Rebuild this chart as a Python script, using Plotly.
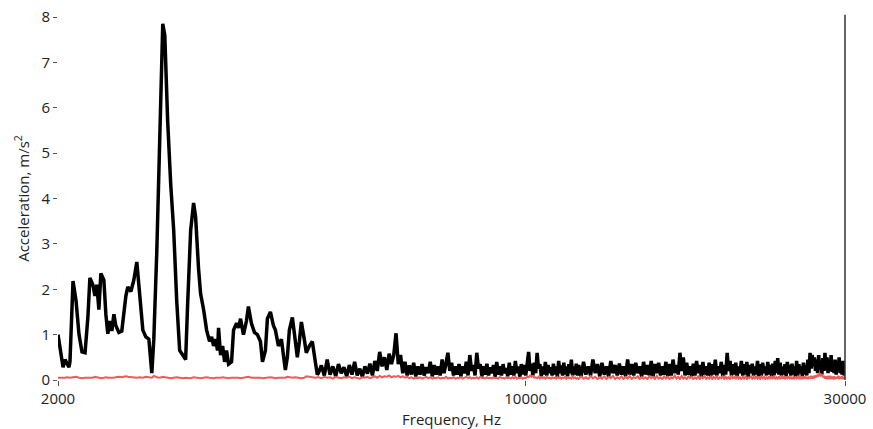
import math
import plotly.graph_objects as go

# ---- Data ----
freq_low = [
    2000, 2021, 2035, 2049, 2063, 2077, 2084, 2106, 2128, 2150,
    2172, 2195, 2217, 2232, 2255, 2271, 2286, 2302, 2318, 2342,
    2358, 2374, 2391, 2407, 2424, 2440, 2466, 2491, 2526, 2543,
    2570, 2596, 2623, 2650, 2678, 2706, 2734, 2762, 2781, 2810,
    2839, 2868, 2888, 2917, 2948, 2978, 3009, 3040, 3072, 3103,
    3124, 3157, 3189, 3211, 3244, 3267, 3301, 3335, 3369, 3393,
    3416, 3440, 3463, 3475, 3499, 3524, 3548, 3572, 3597, 3634,
    3659, 3697, 3722, 3748, 3786, 3825, 3851, 3891, 3932, 3972,
    4014, 4042, 4083, 4111, 4154, 4197, 4226, 4270, 4314, 4344,
    4373, 4403, 4434, 4480, 4526, 4557, 4589, 4621, 4667, 4700,
    4749, 4798, 4848, 4881,
]
accel_low = [
    1.0, 0.6, 0.28, 0.45, 0.35, 0.28, 0.4, 2.18, 1.75, 1.0,
    0.62, 0.6, 1.4, 2.25, 2.1, 1.85, 2.1, 1.55, 2.35, 2.2,
    1.45, 1.02, 1.3, 1.08, 1.45, 1.2, 1.05, 1.08, 1.85, 2.05,
    1.95, 2.2, 2.6, 1.85, 1.1, 0.95, 0.9, 0.15, 0.9, 2.85,
    5.7, 7.85, 7.6, 5.7, 4.3, 3.3, 1.75, 0.65, 0.55, 0.45,
    1.65, 3.3, 3.9, 3.6, 2.45, 1.9, 1.55, 1.1, 0.85, 0.95,
    0.75, 0.9, 0.65, 1.15, 0.55, 0.75, 0.4, 0.65, 0.35, 0.4,
    1.1, 1.25, 1.15, 1.35, 1.0, 1.3, 1.62, 1.25, 1.05, 1.0,
    0.85, 0.4, 0.65, 1.35, 1.5, 1.2, 1.1, 0.75, 0.9, 0.6,
    0.22, 0.5, 1.1, 1.38, 0.85, 0.5, 0.85, 1.28, 0.9, 0.6,
    0.75, 0.85, 0.4, 0.12,
]
noise_low = [
    0.05, 0.05, 0.04, 0.05, 0.06, 0.05, 0.05, 0.06, 0.07, 0.05,
    0.04, 0.05, 0.06, 0.05, 0.05, 0.07, 0.06, 0.05, 0.04, 0.05,
    0.06, 0.05, 0.05, 0.04, 0.05, 0.06, 0.07, 0.06, 0.08, 0.07,
    0.06, 0.05, 0.05, 0.06, 0.05, 0.07, 0.06, 0.05, 0.09, 0.06,
    0.05, 0.07, 0.06, 0.05, 0.04, 0.05, 0.06, 0.05, 0.04, 0.05,
    0.05, 0.04, 0.06, 0.05, 0.05, 0.04, 0.05, 0.06, 0.05, 0.04,
    0.04, 0.05, 0.05, 0.04, 0.05, 0.06, 0.05, 0.05, 0.04, 0.05,
    0.05, 0.06, 0.05, 0.04, 0.05, 0.06, 0.07, 0.05, 0.05, 0.06,
    0.05, 0.04, 0.05, 0.05, 0.06, 0.05, 0.04, 0.05, 0.05, 0.06,
    0.05, 0.07, 0.06, 0.05, 0.06, 0.05, 0.05, 0.04, 0.05, 0.08,
    0.07, 0.06, 0.05, 0.06,
]

freq_mid = [
    4900, 4950, 5000, 5050, 5100, 5150, 5200, 5250, 5300, 5350,
    5400, 5450, 5500, 5550, 5600, 5650, 5700, 5750, 5800, 5850,
    5900, 5950, 6000, 6050, 6100, 6150, 6200, 6250, 6300, 6350,
    6400, 6450, 6500, 6550, 6600, 6650, 6700, 6750, 6800, 6850,
    6900, 6950, 7000, 7050, 7100, 7150, 7200, 7250, 7300, 7350,
    7400, 7450, 7500, 7550, 7600, 7650, 7700, 7750, 7800, 7850,
    7900, 7950, 8000, 8050, 8100, 8150, 8200, 8250, 8300, 8350,
    8400, 8450, 8500, 8550, 8600, 8650, 8700, 8750, 8800, 8850,
    8900, 8950, 9000, 9050, 9100, 9150, 9200, 9250, 9300, 9350,
    9400, 9450, 9500, 9550, 9600, 9650, 9700, 9750, 9800, 9850,
    9900, 9950, 10000, 10050, 10100, 10150, 10200, 10250, 10300, 10350,
    10400, 10450, 10500, 10550, 10600, 10650, 10700, 10750, 10800, 10850,
    10900, 10950, 11000, 11050, 11100, 11150, 11200, 11250, 11300, 11350,
    11400, 11450, 11500, 11550, 11600, 11650, 11700, 11750, 11800, 11850,
    11900, 11950,
]
accel_mid = [
    0.15, 0.32, 0.1, 0.45, 0.12, 0.3, 0.08, 0.35, 0.15, 0.28,
    0.08, 0.33, 0.12, 0.4, 0.1, 0.25, 0.07, 0.3, 0.14, 0.36,
    0.1, 0.42, 0.2, 0.62, 0.3, 0.5, 0.22, 0.58, 0.35, 0.55,
    1.03, 0.35, 0.55, 0.15, 0.4, 0.1, 0.32, 0.12, 0.38, 0.08,
    0.3, 0.12, 0.35, 0.1, 0.28, 0.15, 0.4, 0.08, 0.33, 0.12,
    0.3, 0.1, 0.45, 0.15, 0.36, 0.6, 0.2, 0.38, 0.1, 0.3,
    0.12, 0.35, 0.08, 0.3, 0.15, 0.4, 0.1, 0.55, 0.2, 0.33,
    0.1, 0.6, 0.25, 0.35, 0.08, 0.3, 0.12, 0.36, 0.1, 0.28,
    0.15, 0.33, 0.07, 0.4, 0.12, 0.3, 0.1, 0.35, 0.15, 0.26,
    0.08, 0.38, 0.12, 0.3, 0.1, 0.42, 0.15, 0.3, 0.07, 0.35,
    0.12, 0.33, 0.1, 0.45, 0.62, 0.2, 0.36, 0.1, 0.38, 0.15,
    0.6, 0.25, 0.35, 0.08, 0.3, 0.12, 0.4, 0.1, 0.33, 0.15,
    0.28, 0.1, 0.36, 0.12, 0.3, 0.07, 0.42, 0.15, 0.32, 0.1,
    0.38, 0.12, 0.3, 0.08, 0.35, 0.15, 0.45, 0.1, 0.3, 0.12,
    0.36, 0.1,
]
noise_mid = [
    0.06, 0.04, 0.07, 0.05, 0.06, 0.03, 0.07, 0.05, 0.04, 0.06,
    0.05, 0.07, 0.04, 0.06, 0.05, 0.03, 0.06, 0.05, 0.07, 0.04,
    0.06, 0.08, 0.05, 0.09, 0.06, 0.08, 0.07, 0.1, 0.06, 0.08,
    0.07, 0.09, 0.06, 0.08, 0.05, 0.07, 0.04, 0.06, 0.03, 0.05,
    0.04, 0.06, 0.03, 0.05, 0.07, 0.04, 0.06, 0.03, 0.05, 0.04,
    0.06, 0.03, 0.05, 0.04, 0.07, 0.03, 0.05, 0.04, 0.06, 0.03,
    0.05, 0.04, 0.06, 0.03, 0.05, 0.07, 0.04, 0.06, 0.03, 0.05,
    0.04, 0.06, 0.03, 0.07, 0.04, 0.05, 0.03, 0.06, 0.04, 0.05,
    0.03, 0.06, 0.04, 0.05, 0.03, 0.07, 0.04, 0.05, 0.03, 0.06,
    0.04, 0.05, 0.03, 0.06, 0.04, 0.07, 0.03, 0.05, 0.04, 0.06,
    0.03, 0.05, 0.04, 0.08, 0.06, 0.1, 0.07, 0.09, 0.05, 0.06,
    0.04, 0.07, 0.03, 0.05, 0.04, 0.06, 0.03, 0.07, 0.04, 0.05,
    0.03, 0.06, 0.04, 0.05, 0.03, 0.07, 0.04, 0.06, 0.03, 0.05,
    0.04, 0.07, 0.03, 0.06, 0.04, 0.05, 0.03, 0.08, 0.04, 0.06,
    0.03, 0.05,
]

freq_high = [
    12000, 12100, 12200, 12300, 12400, 12500, 12600, 12700, 12800, 12900,
    13000, 13100, 13200, 13300, 13400, 13500, 13600, 13700, 13800, 13900,
    14000, 14100, 14200, 14300, 14400, 14500, 14600, 14700, 14800, 14900,
    15000, 15100, 15200, 15300, 15400, 15500, 15600, 15700, 15800, 15900,
    16000, 16100, 16200, 16300, 16400, 16500, 16600, 16700, 16800, 16900,
    17000, 17100, 17200, 17300, 17400, 17500, 17600, 17700, 17800, 17900,
    18000, 18100, 18200, 18300, 18400, 18500, 18600, 18700, 18800, 18900,
    19000, 19100, 19200, 19300, 19400, 19500, 19600, 19700, 19800, 19900,
    20000, 20100, 20200, 20300, 20400, 20500, 20600, 20700, 20800, 20900,
    21000, 21100, 21200, 21300, 21400, 21500, 21600, 21700, 21800, 21900,
    22000, 22100, 22200, 22300, 22400, 22500, 22600, 22700, 22800, 22900,
    23000, 23100, 23200, 23300, 23400, 23500, 23600, 23700, 23800, 23900,
    24000, 24100, 24200, 24300, 24400, 24500, 24600, 24700, 24800, 24900,
    25000, 25100, 25200, 25300, 25400, 25500, 25600, 25700, 25800, 25900,
    26000, 26100, 26200, 26300, 26400, 26500, 26600, 26700, 26800, 26900,
    27000, 27100, 27200, 27300, 27400, 27500, 27600, 27700, 27800, 27900,
    28000, 28100, 28200, 28300, 28400, 28500, 28600, 28700, 28800, 28900,
    29000, 29100, 29200, 29300, 29400, 29500, 29600, 29700, 29800, 29900,
    30000,
]
accel_high = [
    0.33, 0.08, 0.4, 0.12, 0.3, 0.1, 0.45, 0.15, 0.35, 0.08,
    0.38, 0.12, 0.3, 0.07, 0.42, 0.15, 0.33, 0.1, 0.36, 0.12,
    0.3, 0.08, 0.45, 0.12, 0.35, 0.1, 0.38, 0.15, 0.3, 0.07,
    0.4, 0.12, 0.33, 0.1, 0.42, 0.08, 0.35, 0.15, 0.38, 0.1,
    0.3, 0.12, 0.4, 0.08, 0.35, 0.1, 0.45, 0.15, 0.33, 0.12,
    0.6, 0.2, 0.5, 0.1, 0.38, 0.12, 0.3, 0.08, 0.36, 0.1,
    0.42, 0.15, 0.33, 0.07, 0.4, 0.12, 0.3, 0.1, 0.38, 0.08,
    0.35, 0.12, 0.45, 0.1, 0.3, 0.15, 0.4, 0.08, 0.33, 0.12,
    0.6, 0.2, 0.42, 0.1, 0.35, 0.12, 0.38, 0.08, 0.3, 0.15,
    0.42, 0.1, 0.35, 0.12, 0.4, 0.07, 0.33, 0.15, 0.36, 0.1,
    0.3, 0.12, 0.42, 0.08, 0.35, 0.1, 0.38, 0.15, 0.3, 0.1,
    0.4, 0.12, 0.33, 0.08, 0.36, 0.1, 0.42, 0.15, 0.48, 0.12,
    0.38, 0.1, 0.3, 0.12, 0.35, 0.08, 0.4, 0.15, 0.33, 0.1,
    0.36, 0.12, 0.3, 0.07, 0.42, 0.1, 0.35, 0.15, 0.3, 0.08,
    0.38, 0.12, 0.33, 0.1, 0.45, 0.15, 0.6, 0.25, 0.55, 0.3,
    0.5, 0.2, 0.45, 0.15, 0.55, 0.25, 0.4, 0.12, 0.48, 0.2,
    0.6, 0.22, 0.5, 0.15, 0.45, 0.2, 0.55, 0.18, 0.4, 0.15,
    0.45, 0.12, 0.4, 0.2, 0.5, 0.15, 0.38, 0.12, 0.42, 0.1,
    0.3,
]
noise_high = [
    0.02, 0.08, 0.03, 0.06, 0.02, 0.09, 0.04, 0.07, 0.02, 0.06,
    0.03, 0.08, 0.02, 0.07, 0.04, 0.09, 0.02, 0.06, 0.03, 0.08,
    0.02, 0.07, 0.03, 0.09, 0.02, 0.06, 0.04, 0.08, 0.02, 0.07,
    0.03, 0.06, 0.02, 0.08, 0.04, 0.07, 0.02, 0.09, 0.03, 0.06,
    0.02, 0.08, 0.03, 0.07, 0.02, 0.06, 0.04, 0.1, 0.03, 0.07,
    0.02, 0.09, 0.03, 0.06, 0.02, 0.08, 0.04, 0.07, 0.02, 0.06,
    0.03, 0.08, 0.02, 0.07, 0.04, 0.09, 0.02, 0.06, 0.03, 0.08,
    0.02, 0.07, 0.03, 0.09, 0.02, 0.06, 0.04, 0.08, 0.02, 0.07,
    0.03, 0.06, 0.02, 0.08, 0.04, 0.07, 0.02, 0.09, 0.03, 0.06,
    0.02, 0.08, 0.03, 0.07, 0.02, 0.06, 0.04, 0.09, 0.03, 0.07,
    0.02, 0.09, 0.03, 0.06, 0.02, 0.08, 0.04, 0.07, 0.02, 0.06,
    0.03, 0.08, 0.02, 0.07, 0.04, 0.09, 0.02, 0.06, 0.03, 0.08,
    0.02, 0.07, 0.03, 0.09, 0.02, 0.06, 0.04, 0.08, 0.02, 0.07,
    0.03, 0.06, 0.02, 0.08, 0.04, 0.07, 0.02, 0.09, 0.03, 0.06,
    0.02, 0.08, 0.03, 0.07, 0.02, 0.06, 0.04, 0.09, 0.03, 0.07,
    0.04, 0.1, 0.06, 0.12, 0.08, 0.15, 0.1, 0.13, 0.06, 0.09,
    0.03, 0.08, 0.02, 0.07, 0.04, 0.09, 0.02, 0.06, 0.03, 0.08,
    0.02, 0.07, 0.03, 0.09, 0.02, 0.06, 0.04, 0.08, 0.02, 0.07,
    0.03,
]

x_tick_values = [2000, 10000, 30000]
x_tick_labels = ["2000", "10000", "30000"]
y_tick_values = [0, 1, 2, 3, 4, 5, 6, 7, 8]

frequency = freq_low + freq_mid + freq_high
acceleration = accel_low + accel_mid + accel_high
background = noise_low + noise_mid + noise_high

FONT = "Open Sans"
TXT = "#222222"

fig = go.Figure()
fig.add_trace(go.Scatter(
    x=frequency, y=acceleration, mode="lines",
    line=dict(color="#000000", width=3.5), showlegend=False,
))
fig.add_trace(go.Scatter(
    x=frequency, y=background, mode="lines",
    line=dict(color="#ef5a5a", width=2), showlegend=False,
))

fig.add_shape(type="line", xref="paper", yref="paper",
              x0=1, x1=1, y0=0, y1=1.006,
              line=dict(color="#333333", width=1.5))

fig.update_layout(
    width=873, height=429,
    margin=dict(l=58, r=28, t=17, b=49, autoexpand=False),
    paper_bgcolor="white", plot_bgcolor="white",
    font=dict(family=FONT, size=15, color=TXT),
    xaxis=dict(
        type="log", automargin=False,
        range=[math.log10(2000), math.log10(30000)],
        tickmode="array", tickvals=x_tick_values, ticktext=x_tick_labels,
        ticks="outside", ticklen=5, tickwidth=1, tickcolor="#555555",
        showgrid=False, zeroline=False, showline=False,
        title=dict(text="Frequency, Hz", font=dict(size=15, color=TXT), standoff=8),
        tickfont=dict(size=15, color=TXT),
    ),
    yaxis=dict(
        range=[0, 8], automargin=False,
        tickmode="array", tickvals=y_tick_values,
        ticks="outside", ticklen=4, tickwidth=1, tickcolor="#555555",
        showgrid=False, zeroline=False, showline=False,
        title=dict(text="Acceleration, m/s<sup>2</sup>", font=dict(size=15, color=TXT), standoff=8),
        tickfont=dict(size=15, color=TXT),
    ),
)

fig.write_html("out.html")
